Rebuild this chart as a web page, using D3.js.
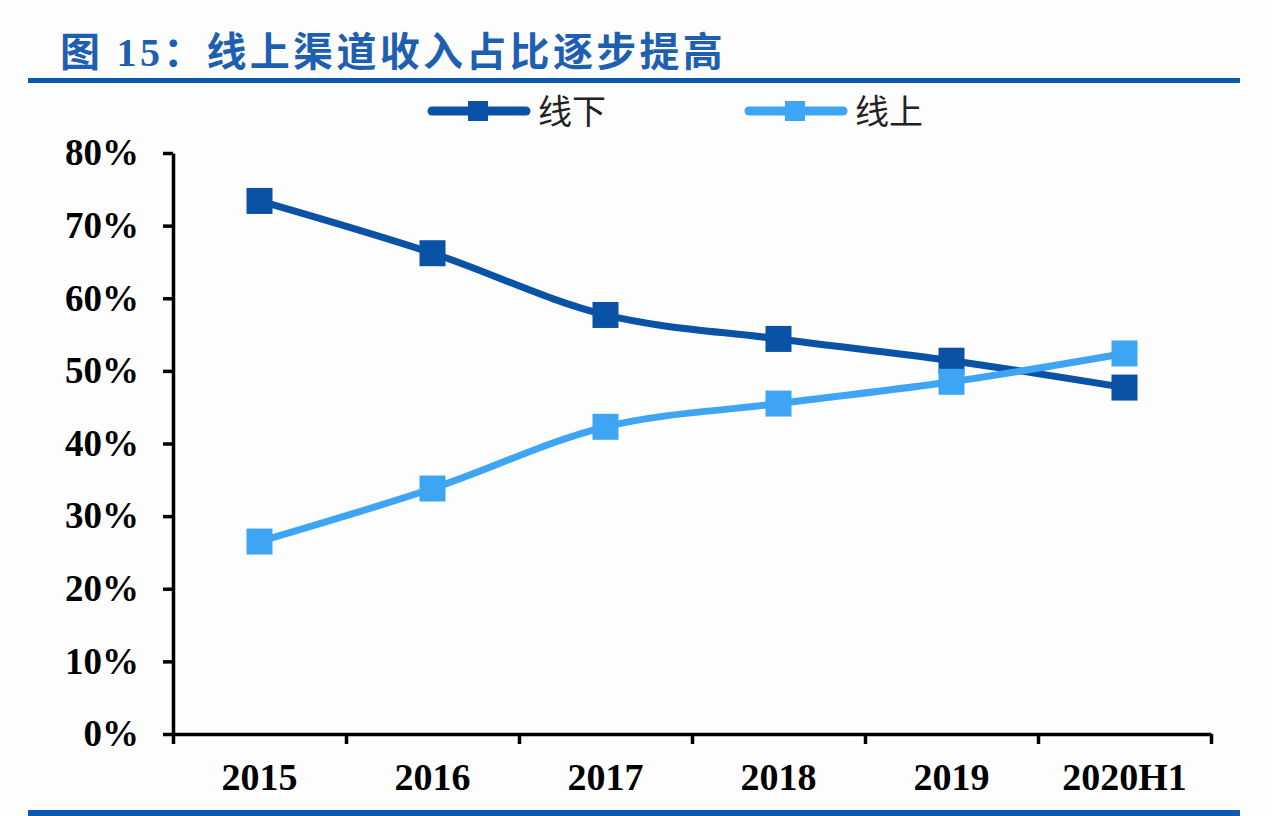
<!DOCTYPE html>
<html>
<head>
<meta charset="utf-8">
<script src="https://cdn.jsdelivr.net/npm/d3@7"></script>
<style>
  html, body { margin: 0; padding: 0; background: #fdfdfe; }
  svg { display: block; }
</style>
</head>
<body>
<div id="chart"></div>
<script>
const categories = ["2015", "2016", "2017", "2018", "2019", "2020H1"];
const offline = [73.4, 66.2, 57.7, 54.4, 51.4, 47.7];
const online = [26.5, 33.8, 42.3, 45.5, 48.5, 52.4];
const yTicks = [0, 10, 20, 30, 40, 50, 60, 70, 80];
const seriesNames = ["线下", "线上"];
const titleText = "图 15：线上渠道收入占比逐步提高";

const W = 1272, H = 816;
const margin = { top: 153, right: 61, bottom: 82, left: 173 };
const width = W - margin.left - margin.right;
const height = H - margin.top - margin.bottom;

const darkBlue = "#0a52a6";
const lightBlue = "#3ea5f4";
const ruleBlue = "#0a5bb0";

const svg = d3.select("#chart")
  .append("svg")
  .attr("width", W)
  .attr("height", H);

// title + rules
svg.append("text")
  .attr("x", 60)
  .attr("y", 66)
  .attr("fill", "#1d5fb0")
  .style("font-family", "'Liberation Serif', 'Noto Sans CJK SC', serif")
  .style("font-weight", "bold")
  .style("font-size", "40px")
  .style("letter-spacing", "3.3px")
  .text(titleText);

svg.append("rect").attr("x", 28).attr("y", 78).attr("width", 1212).attr("height", 5).attr("fill", ruleBlue);
svg.append("rect").attr("x", 28).attr("y", 810).attr("width", 1212).attr("height", 6).attr("fill", ruleBlue);

const g = svg.append("g")
  .attr("transform", `translate(${margin.left},${margin.top})`);

const x = d3.scaleBand().domain(categories).range([0, width]);
const xEdge = d3.scaleLinear().domain([0, categories.length]).range([0, width]);
const y = d3.scaleLinear().domain([0, 80]).range([height, 0]);

const labelFont = "'Liberation Serif', 'Times New Roman', serif";

// y axis
const yAxis = g.append("g")
  .call(d3.axisLeft(y).tickValues(yTicks).tickFormat(d => d + "%").tickSize(10).tickSizeOuter(0).tickPadding(24));
yAxis.select(".domain").attr("stroke", "#000").attr("stroke-width", 3.5);
yAxis.selectAll(".tick line").attr("stroke", "#000").attr("stroke-width", 3.5);
yAxis.selectAll(".tick text")
  .attr("fill", "#000")
  .style("font-family", labelFont)
  .style("font-weight", "bold")
  .style("font-size", "37px");

// x axis: boundary ticks
const xTicks = g.append("g")
  .attr("transform", `translate(0,${height})`)
  .call(d3.axisBottom(xEdge).tickValues(d3.range(categories.length + 1)).tickFormat("").tickSize(10).tickSizeOuter(0));
xTicks.select(".domain").attr("stroke", "#000").attr("stroke-width", 3.5);
xTicks.selectAll(".tick line").attr("stroke", "#000").attr("stroke-width", 3.5);

// x axis: labels
const xLabels = g.append("g")
  .attr("transform", `translate(0,${height})`)
  .call(d3.axisBottom(x).tickSize(0).tickPadding(29));
xLabels.select(".domain").remove();
xLabels.selectAll(".tick text")
  .attr("fill", "#000")
  .style("font-family", labelFont)
  .style("font-weight", "bold")
  .style("font-size", "38px");

// lines
const line = d3.line()
  .x((d, i) => x(categories[i]) + x.bandwidth() / 2)
  .y(d => y(d))
  .curve(d3.curveCatmullRom.alpha(0.5));

const series = [
  { name: seriesNames[0], values: offline, color: darkBlue },
  { name: seriesNames[1], values: online, color: lightBlue }
];

series.forEach(s => {
  g.append("path")
    .datum(s.values)
    .attr("fill", "none")
    .attr("stroke", s.color)
    .attr("stroke-width", 7)
    .attr("d", line);
});

series.forEach(s => {
  g.selectAll(null)
    .data(s.values)
    .enter()
    .append("rect")
    .attr("x", (d, i) => x(categories[i]) + x.bandwidth() / 2 - 13)
    .attr("y", d => y(d) - 13)
    .attr("width", 26)
    .attr("height", 26)
    .attr("fill", s.color);
});

// legend
const legend = svg.append("g");
const legendX = [428, 745];
series.forEach((s, i) => {
  const lg = legend.append("g").attr("transform", `translate(${legendX[i]},111)`);
  lg.append("line")
    .attr("x1", 4).attr("x2", 98)
    .attr("y1", 0).attr("y2", 0)
    .attr("stroke", s.color)
    .attr("stroke-width", 9)
    .attr("stroke-linecap", "round");
  lg.append("rect")
    .attr("x", 40).attr("y", -10)
    .attr("width", 20).attr("height", 20)
    .attr("fill", s.color);
  lg.append("text")
    .attr("x", 110)
    .attr("y", 13)
    .attr("fill", "#222")
    .style("font-family", "'Noto Sans CJK SC', sans-serif")
    .style("font-size", "34px")
    .text(s.name);
});
</script>
</body>
</html>
